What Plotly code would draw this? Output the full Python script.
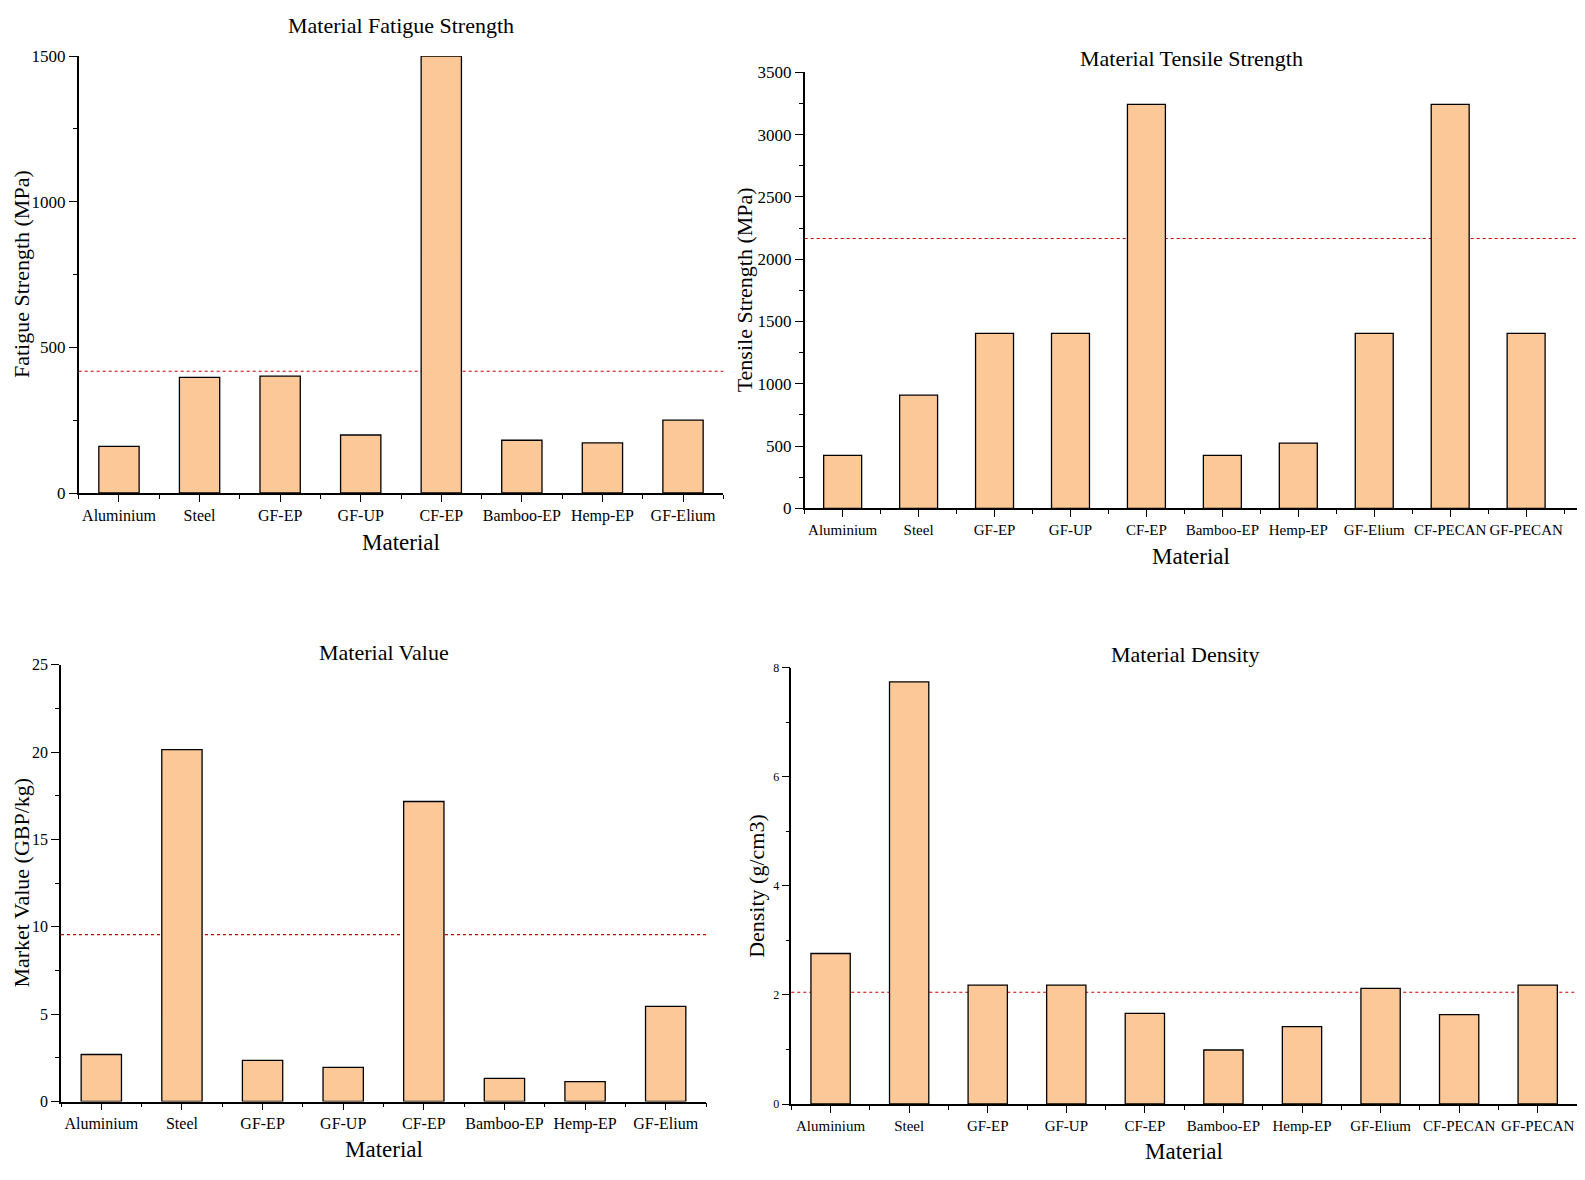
import plotly.graph_objects as go

# ---------------- data ----------------
materials_8 = ["Aluminium", "Steel", "GF-EP", "GF-UP", "CF-EP", "Bamboo-EP", "Hemp-EP", "GF-Elium"]
materials_10 = ["Aluminium", "Steel", "GF-EP", "GF-UP", "CF-EP", "Bamboo-EP", "Hemp-EP", "GF-Elium",
                "CF-PECAN", "GF-PECAN"]

fatigue_strength = [160, 397, 401, 199, 1500, 181, 172, 250]
fatigue_ref = 418

tensile_strength = [425, 908, 1404, 1404, 3242, 425, 523, 1404, 3242, 1404]
tensile_ref = 2166

market_value = [2.69, 20.14, 2.35, 1.95, 17.17, 1.32, 1.14, 5.44]
value_ref = 9.55

density = [2.76, 7.74, 2.18, 2.18, 1.66, 0.99, 1.42, 2.12, 1.64, 2.18]
density_ref = 2.05

# ---------------- layout helpers ----------------
PAGE_OFFSET = 8                     # default body margin of the html page
W, H = 1585 - 2 * PAGE_OFFSET, 1180 - 2 * PAGE_OFFSET
FONT = "Times New Roman, Liberation Serif, serif"
BAR_COLOR = "#FDC898"
REF_COLOR = "#C80000"


def px(x):
    return min(1.0, max(0.0, (x - PAGE_OFFSET) / W))


def py(y):
    return min(1.0, max(0.0, 1 - (y - PAGE_OFFSET) / H))


panels = [
    dict(cats=materials_8, vals=fatigue_strength, ref=fatigue_ref,
         title="Material Fatigue Strength", ytitle="Fatigue Strength (MPa)",
         xd=(78.7, 723.3), yd=(56, 493), yr=(0, 1500), dtick=500, minor=250,
         xend=0.0, tfs=17, title_xy=(401, 25.5), ytitle_x=None, xtitle_y=543),
    dict(cats=materials_10, vals=tensile_strength, ref=tensile_ref,
         title="Material Tensile Strength", ytitle="Tensile Strength (MPa)",
         xd=(804.7, 1577), yd=(72.3, 508.3), yr=(0, 3500), dtick=500, minor=250,
         xend=0.17, tfs=17, title_xy=(1191, 59), ytitle_x=744, xtitle_y=556),
    dict(cats=materials_8, vals=market_value, ref=value_ref,
         title="Material Value", ytitle="Market Value (GBP/kg)",
         xd=(61, 706), yd=(664.7, 1101.5), yr=(0, 25), dtick=5, minor=2.5,
         xend=0.0, tfs=16, title_xy=(383.5, 652), ytitle_x=None, xtitle_y=1149),
    dict(cats=materials_10, vals=density, ref=density_ref,
         title="Material Density", ytitle="Density (g/cm3)",
         xd=(791.3, 1577), yd=(667.7, 1104), yr=(0, 8), dtick=2, minor=1,
         xend=0.0, tfs=12, title_xy=(1185, 654), ytitle_x=757, xtitle_y=1151),
]

fig = go.Figure()
annotations = []
shapes = []

for i, p in enumerate(panels):
    k = "" if i == 0 else str(i + 1)
    xa, ya = "x" + k, "y" + k
    n = len(p["cats"])
    pos = list(range(n))

    fig.add_trace(go.Bar(
        x=pos, y=p["vals"], width=0.5,
        marker=dict(color=BAR_COLOR, line=dict(color="black", width=1.3)),
        xaxis=xa, yaxis=ya, showlegend=False, cliponaxis=False,
    ))

    xr_end = n - 0.5 + p["xend"]
    fig.layout["xaxis" + k] = dict(
        domain=[px(p["xd"][0]), px(p["xd"][1])],
        anchor=ya, range=[-0.5, xr_end], automargin=False,
        tickmode="array", tickvals=pos, ticktext=p["cats"], tickangle=0,
        ticks="outside", ticklen=7, tickwidth=1.2, tickcolor="black",
        minor=dict(tickmode="array", tickvals=[j - 0.5 for j in range(n + 1)],
                   ticks="outside", ticklen=4, tickwidth=1.2, tickcolor="black"),
        showline=True, linecolor="black", linewidth=1.5,
        showgrid=False, zeroline=False,
        tickfont=dict(family=FONT, size=16 if n == 8 else 15, color="black"),
        fixedrange=True,
    )
    fig.layout["yaxis" + k] = dict(
        domain=[py(p["yd"][1]), py(p["yd"][0])],
        anchor=xa, range=list(p["yr"]), automargin=False,
        tickmode="linear", tick0=0, dtick=p["dtick"],
        ticks="outside", ticklen=8, tickwidth=1.2, tickcolor="black",
        minor=dict(dtick=p["minor"], tick0=0, ticks="outside", ticklen=4,
                   tickwidth=1.2, tickcolor="black"),
        showline=True, linecolor="black", linewidth=1.5,
        showgrid=False, zeroline=False,
        tickfont=dict(family=FONT, size=p["tfs"], color="black"),
        fixedrange=True,
    )

    # reference (dotted) line behind the bars
    shapes.append(dict(
        type="line", xref=xa + " domain", yref=ya,
        x0=0, x1=1, y0=p["ref"], y1=p["ref"],
        line=dict(color=REF_COLOR, width=1.1, dash="dot"), layer="below",
    ))

    ycenter = (p["yd"][0] + p["yd"][1]) / 2
    xcenter = (p["xd"][0] + p["xd"][1]) / 2
    if p["ytitle_x"] is None:       # title hugging the left page edge
        ytx, ytanchor = 0.0, "left"
    else:
        ytx, ytanchor = px(p["ytitle_x"]), "center"
    annotations += [
        dict(text=p["title"], x=px(p["title_xy"][0]), y=py(p["title_xy"][1]),
             xref="paper", yref="paper", xanchor="center", yanchor="middle",
             showarrow=False, font=dict(family=FONT, size=22, color="black")),
        dict(text=p["ytitle"], x=ytx, y=py(ycenter),
             xref="paper", yref="paper", xanchor=ytanchor, yanchor="middle",
             textangle=-90, showarrow=False, borderpad=0,
             font=dict(family=FONT, size=22, color="black")),
        dict(text="Material", x=px(xcenter), y=py(p["xtitle_y"]),
             xref="paper", yref="paper", xanchor="center", yanchor="middle",
             showarrow=False, font=dict(family=FONT, size=23, color="black")),
    ]

fig.update_layout(
    width=W, height=H,
    margin=dict(l=0, r=0, t=0, b=0, autoexpand=False),
    paper_bgcolor="white", plot_bgcolor="white",
    annotations=annotations, shapes=shapes,
    showlegend=False,
    font=dict(family=FONT, color="black"),
)

fig.write_html("out.html")
